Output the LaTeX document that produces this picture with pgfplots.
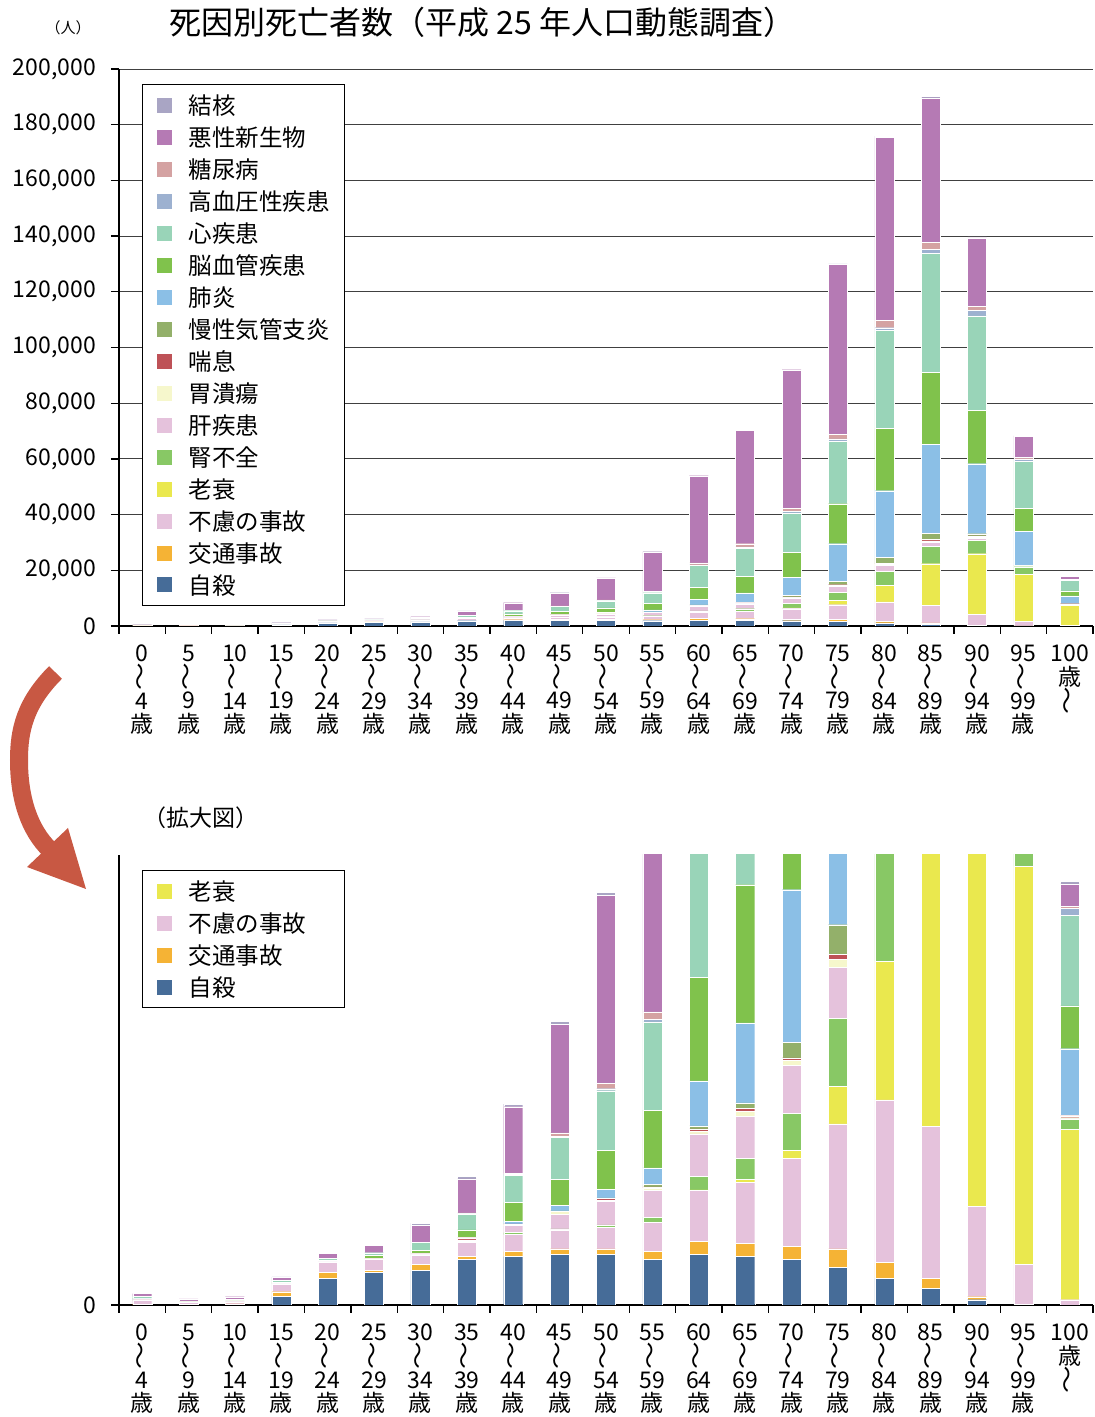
\documentclass[border=0pt]{standalone}
\usepackage{fontspec}
\setmainfont{Noto Sans CJK JP}
\usepackage{graphicx}
\usepackage{pgfplots}
\usepackage{pgfplotstable}
\pgfplotsset{compat=1.18}

\definecolor{cKek}{HTML}{A9A5C4}
\definecolor{cAku}{HTML}{B57AB4}
\definecolor{cTou}{HTML}{D4A2A2}
\definecolor{cKou}{HTML}{9DB1D0}
\definecolor{cShin}{HTML}{99D4B8}
\definecolor{cNou}{HTML}{80C24C}
\definecolor{cHai}{HTML}{8BBFE6}
\definecolor{cMan}{HTML}{93B06A}
\definecolor{cZen}{HTML}{BE5257}
\definecolor{cI}{HTML}{F6F7CC}
\definecolor{cKan}{HTML}{E5C2DC}
\definecolor{cJin}{HTML}{88C865}
\definecolor{cRou}{HTML}{EAE84E}
\definecolor{cFu}{HTML}{E5C2DC}
\definecolor{cKoutsu}{HTML}{F5B335}
\definecolor{cJi}{HTML}{466C98}
\definecolor{arrowc}{HTML}{C85843}

\pgfplotstableread{
x  jisatsu koutsu furyo rosui jinfu kan ikaiyo zensoku manse haien nou shin kouketsu tonyo akusei kekkaku
0  0    40  160  0     5     10   0   5   0    40    20    90    0    0    110   0
1  0    40  70   0     0     0    0   0   0    15    10    30    0    0    90    0
2  20   30  90   0     0     0    0   0   0    10    20    40    0    20   120   0
3  366  197 324  0     0     0    0   0   0    20    60    80    0    0    114   30
4  1127 240 437  0     0     20   0   0   0    20    30    90    0    0    218   50
5  1367 99  451  0     0     20   0   10  0    20    127   113   0    0    310   50
6  1451 254 409  0     0     30   0   10  0    30    113   352   0    0    704   99
7  1916 127 606  0     28    70   0   85  0    28    310   676   0    42   1437  113
8  2042 211 718  0     85    296  56  20  0    113   789   1155  40   30   2817  113
9  2127 239 803  0     40    606  127 20  10   239   1099  1775  40   141  4578  127
10 2127 239 916  0     99    986  40  99  20   352   1662  2507  85   225  7930  127
11 1916 338 1240 0     211   1127 113 40  99   704   2437  3732  99   324  14200 100
12 2127 563 2141 30    563   1803 99  113 127  1901  4366  7887  250  680  31300 100
13 2042 563 2578 113   901   1775 211 127 225  3380  5831  10200 450  1150 40600 100
14 1916 549 3733 324   1563  2028 211 113 662  6437  8811  14240 600  1130 49700 150
15 1592 775 5282 1578  2887  2155 324 225 1239 13480 14370 22355 900  1630 61000 270
16 1127 662 6873 5845  5050  2130 500 300 2130 23950 22490 35000 1065 2660 65600 530
17 704  423 6409 14820 6255  1330 600 465 2262 31936 25948 42582 1597 2395 51895 665
18 225  127 3817 21779 4790  700  500 397 798  25150 19162 33932 1863 1597 24484 400
19 28   14  1676 16817 2770  150  150 100 150  12100 8250  17030 800  530  7585  200
20 0    0   225  7183  451   20   30  80  30   2803  1803  3831  296  70   958   99
}\data

\newcommand{\fs}[2]{\fontsize{#1}{#2}\selectfont}
\newcommand{\wv}{\smash{\raisebox{-5pt}{\rotatebox{90}{\scalebox{1.2}[1]{〜}}}}}
\newcommand{\lgt}[1]{\makebox[142pt][l]{#1}}
\pgfplotsset{
  sqlegend/.style={legend image code/.code={\fill[##1,draw=none] (0pt,-7.5pt) rectangle (15pt,7.5pt);}},
  mystyle/.style={
    scale only axis, width=974pt,
    xmin=-0.5, xmax=20.5, ymin=0,
    ybar stacked, bar width=19pt,
    axis x line*=bottom, axis y line*=left,
    axis line style={line width=1.3pt, -},
    every tick/.style={black, line width=1.3pt},
    tick align=outside,
    major tick length=8pt,
    scaled y ticks=false,
    xtick={-0.5,0.5,...,20.5}, xticklabels={},
    extra x ticks={0,...,20},
    extra x tick labels={{0\\\wv\\4\\歳},{5\\\wv\\9\\歳},{10\\\wv\\14\\歳},{15\\\wv\\19\\歳},{20\\\wv\\24\\歳},{25\\\wv\\29\\歳},{30\\\wv\\34\\歳},{35\\\wv\\39\\歳},{40\\\wv\\44\\歳},{45\\\wv\\49\\歳},{50\\\wv\\54\\歳},{55\\\wv\\59\\歳},{60\\\wv\\64\\歳},{65\\\wv\\69\\歳},{70\\\wv\\74\\歳},{75\\\wv\\79\\歳},{80\\\wv\\84\\歳},{85\\\wv\\89\\歳},{90\\\wv\\94\\歳},{95\\\wv\\99\\歳},{100\\歳\\\wv}},
    extra x tick style={major tick length=0pt, xticklabel style={font=\fs{23}{23.7}, align=center, inner sep=0pt, anchor=north, yshift=-19pt}},
    yticklabel style={font=\fs{23}{25}, inner sep=0pt, xshift=-15pt},
    legend cell align=left,
    legend style={draw=black, line width=1.3pt, font=\fs{23.5}{26}, inner xsep=14pt, inner ysep=10pt, row sep=10.7pt, column sep=17pt, nodes={inner sep=0pt}},
    every axis plot/.append style={draw=white, line width=0.3pt, sqlegend},
  }
}
\newcommand{\bars}[2]{\addplot[fill=#2] table[x=x,y=#1]{\data};}

\begin{document}
\begin{tikzpicture}
\path[use as bounding box] (0pt,0pt) rectangle (1095pt,1417pt);

\begin{axis}[mystyle, at={(119pt,791pt)}, anchor=south west, height=557pt,
  ymax=200000, ytick={0,20000,40000,60000,80000,100000,120000,140000,160000,180000,200000},
  yticklabels={0,{20,000},{40,000},{60,000},{80,000},{100,000},{120,000},{140,000},{160,000},{180,000},{200,000}},
  ymajorgrids, major grid style={black!75, line width=0.9pt},
  reverse legend,
  legend style={at={(0.0236,0.973)}, anchor=north west}]
\bars{jisatsu}{cJi}\addlegendentry{\lgt{自殺}}
\bars{koutsu}{cKoutsu}\addlegendentry{\lgt{交通事故}}
\bars{furyo}{cFu}\addlegendentry{\lgt{不慮の事故}}
\bars{rosui}{cRou}\addlegendentry{\lgt{老衰}}
\bars{jinfu}{cJin}\addlegendentry{\lgt{腎不全}}
\bars{kan}{cKan}\addlegendentry{\lgt{肝疾患}}
\bars{ikaiyo}{cI}\addlegendentry{\lgt{胃潰瘍}}
\bars{zensoku}{cZen}\addlegendentry{\lgt{喘息}}
\bars{manse}{cMan}\addlegendentry{\lgt{慢性気管支炎}}
\bars{haien}{cHai}\addlegendentry{\lgt{肺炎}}
\bars{nou}{cNou}\addlegendentry{\lgt{脳血管疾患}}
\bars{shin}{cShin}\addlegendentry{\lgt{心疾患}}
\bars{kouketsu}{cKou}\addlegendentry{\lgt{高血圧性疾患}}
\bars{tonyo}{cTou}\addlegendentry{\lgt{糖尿病}}
\bars{akusei}{cAku}\addlegendentry{\lgt{悪性新生物}}
\bars{kekkaku}{cKek}\addlegendentry{\lgt{結核}}
\end{axis}

\begin{axis}[mystyle, at={(119pt,112pt)}, anchor=south west, height=450pt,
  ymax=19000, ytick={0}, yticklabels={0},
  legend style={at={(0.0236,0.9667)}, anchor=north west}]
\addlegendimage{fill=cRou, draw=none, sqlegend}\addlegendentry{\lgt{老衰}}
\addlegendimage{fill=cFu, draw=none, sqlegend}\addlegendentry{\lgt{不慮の事故}}
\addlegendimage{fill=cKoutsu, draw=none, sqlegend}\addlegendentry{\lgt{交通事故}}
\addlegendimage{fill=cJi, draw=none, sqlegend}\addlegendentry{\lgt{自殺}}
\bars{jisatsu}{cJi}
\bars{koutsu}{cKoutsu}
\bars{furyo}{cFu}
\bars{rosui}{cRou}
\bars{jinfu}{cJin}
\bars{kan}{cKan}
\bars{ikaiyo}{cI}
\bars{zensoku}{cZen}
\bars{manse}{cMan}
\bars{haien}{cHai}
\bars{nou}{cNou}
\bars{shin}{cShin}
\bars{kouketsu}{cKou}
\bars{tonyo}{cTou}
\bars{akusei}{cAku}
\bars{kekkaku}{cKek}
\end{axis}

\node[anchor=west, font=\fs{32}{35}] at (166pt,1395pt) {死因別死亡者数（平成 25 年人口動態調査）};
\node[font=\fs{15}{17}] at (68pt,1389pt) {（人）};
\node[anchor=west, font=\fs{23}{26}] at (140pt,599pt) {（拡大図）};

\draw[line width=18pt, arrowc] (55.5pt,744.5pt) .. controls (25pt,714pt) and (19pt,687pt) .. (19pt,657pt) .. controls (19pt,617pt) and (30pt,587pt) .. (49pt,568pt);
\fill[arrowc] (27pt,550pt) -- (68pt,589pt) -- (86pt,528pt) -- cycle;
\end{tikzpicture}
\end{document}
